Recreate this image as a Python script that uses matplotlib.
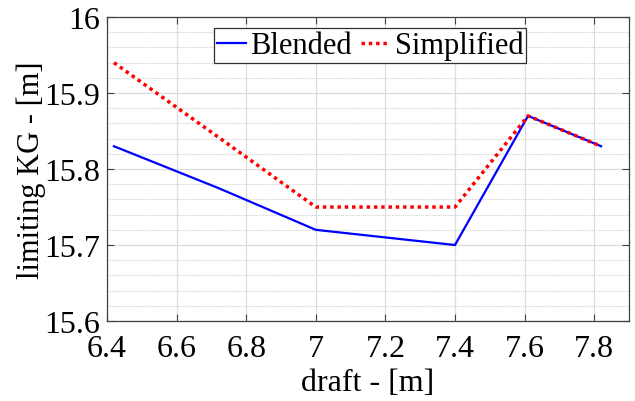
import matplotlib.pyplot as plt
from matplotlib.ticker import MultipleLocator

# limiting KG vs draft, blended vs simplified method

draft = [6.42, 6.72, 7.0, 7.4, 7.61, 7.82]
kg_blended = [15.83, 15.775, 15.72, 15.70, 15.87, 15.83]
kg_simplified = [15.94, 15.842, 15.75, 15.75, 15.87, 15.83]

plt.rcParams['font.family'] = ['Liberation Serif', 'DejaVu Serif']

fig = plt.figure(figsize=(6.35, 4.02), dpi=100)
ax = fig.add_axes([0.1685, 0.199, 0.822, 0.756])

ax.plot(draft, kg_blended, color='#0000ff', lw=1.6, label='Blended')
ax.plot(draft, kg_simplified, color='#ff0000', lw=2.5, ls=(0, (1, 1.1)), label='Simplified')

ax.set_xlim(6.4, 7.9)
ax.set_ylim(15.6, 16.0)
ax.yaxis.set_minor_locator(MultipleLocator(0.02))
ax.set_xticks([6.4, 6.6, 6.8, 7.0, 7.2, 7.4, 7.6, 7.8])
ax.set_xticklabels(['6.4', '6.6', '6.8', '7', '7.2', '7.4', '7.6', '7.8'])
ax.set_yticks([15.6, 15.7, 15.8, 15.9, 16.0])
ax.set_yticklabels(['15.6', '15.7', '15.8', '15.9', '16'])

ax.grid(which='major', color='#dcdcdc', lw=0.9)
ax.grid(which='minor', axis='y', color='#d0d0d0', lw=0.8, ls=(0, (1, 1)))
ax.set_axisbelow(True)

ax.tick_params(which='major', direction='in', length=5, top=True, right=True,
               labelsize=23, color='#404040')
ax.tick_params(axis='x', pad=9)
ax.tick_params(axis='y', pad=5)
ax.tick_params(which='minor', length=0)
for s in ax.spines.values():
    s.set_color('#404040')
    s.set_linewidth(0.9)

ax.set_xlabel('draft - [m]', fontsize=23, labelpad=4)
ax.set_ylabel('limiting KG - [m]', fontsize=22, labelpad=-1)

leg = ax.legend(loc='upper center', bbox_to_anchor=(0.504, 0.99), ncol=2, fontsize=22,
                frameon=True, fancybox=False, handlelength=0.95, handletextpad=0.15,
                columnspacing=0.3, borderpad=0.1, borderaxespad=0.25)
leg.get_frame().set_edgecolor('#303030')
leg.get_frame().set_linewidth(0.9)
leg.get_frame().set_alpha(1)

plt.savefig('out.png', dpi=100)
